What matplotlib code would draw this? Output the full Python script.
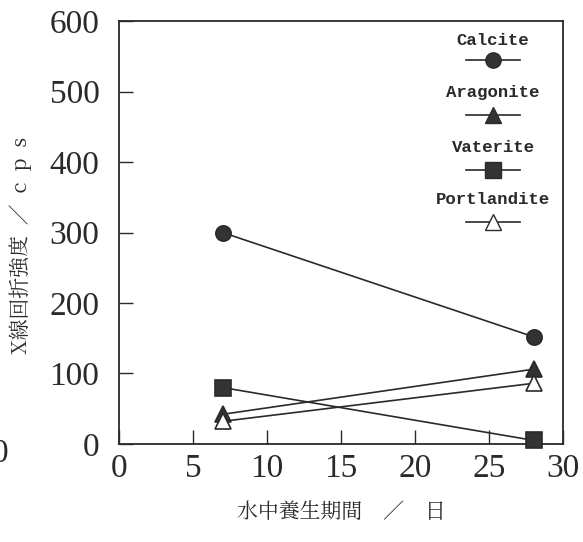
import matplotlib
matplotlib.use("Agg")
import matplotlib.pyplot as plt

# curing period (days) and XRD intensities (cps)
days = [7, 28]
calcite = [300, 152]
aragonite = [42, 106]
vaterite = [80, 5]
portlandite = [32, 86]

names = ["Calcite", "Aragonite", "Vaterite", "Portlandite"]
series = [calcite, aragonite, vaterite, portlandite]
markers = ["o", "^", "s", "^"]
fills = ["#333333", "#333333", "#333333", "white"]

x_ticks = [0, 5, 10, 15, 20, 25, 30]
y_ticks = [0, 100, 200, 300, 400, 500, 600]

ink = "#2a2a2a"
num_font = "Liberation Serif"
jp_font = ["Noto Serif CJK JP", "Noto Sans CJK JP", "DejaVu Sans"]

fig = plt.figure(figsize=(5.83, 5.42), dpi=100)
ax = fig.add_axes([0.204, 0.181, 0.762, 0.78])

for vals, m, fc in zip(series, markers, fills):
    ax.plot(days, vals, color=ink, lw=1.2, marker=m, ms=11,
            markerfacecolor=fc, markeredgecolor=ink, markeredgewidth=1.2,
            clip_on=False, zorder=3)

ax.set_xlim(0, 30)
ax.set_ylim(0, 600)
ax.set_xticks(x_ticks)
ax.set_yticks(y_ticks)
ax.set_xticklabels([str(t) for t in x_ticks], fontfamily=num_font, fontsize=24, color=ink)
ax.set_yticklabels([str(t) for t in y_ticks], fontfamily=num_font, fontsize=24, color=ink)
ax.tick_params(axis="both", direction="in", length=10, width=1.0, color=ink)
ax.tick_params(axis="y", pad=14)
ax.tick_params(axis="x", pad=7)
for s in ax.spines.values():
    s.set_color(ink)
    s.set_linewidth(1.3)

ax.set_xlabel("水中養生期間　／　日", fontfamily=jp_font, fontsize=15, color=ink)
ax.xaxis.set_label_coords(0.5, -0.135)
ax.set_ylabel("X線回折強度  ／  c  p  s", fontfamily=jp_font, fontsize=15, color=ink)
ax.yaxis.set_label_coords(-0.195, 0.47)

# legend: label above a short line with the marker
lab_y = [0.955, 0.832, 0.702, 0.577]
line_y = [0.908, 0.778, 0.648, 0.525]
for name, m, fc, ty, ly in zip(names, markers, fills, lab_y, line_y):
    ax.text(0.842, ty, name, transform=ax.transAxes, ha="center", va="center",
            fontfamily="Liberation Mono", fontweight="bold", fontsize=12.5, color=ink)
    ax.plot([0.782, 0.903], [ly, ly], transform=ax.transAxes, color=ink, lw=1.2, clip_on=False)
    ax.plot([0.842], [ly], transform=ax.transAxes, marker=m, ms=11, color=ink,
            markerfacecolor=fc, markeredgecolor=ink, clip_on=False)

# clipped digit from neighbouring figure at the left edge
fig.text(0.0, 0.163, "0", ha="center", va="center", fontfamily=num_font, fontsize=24, color=ink)

fig.savefig("out.png", dpi=100)
